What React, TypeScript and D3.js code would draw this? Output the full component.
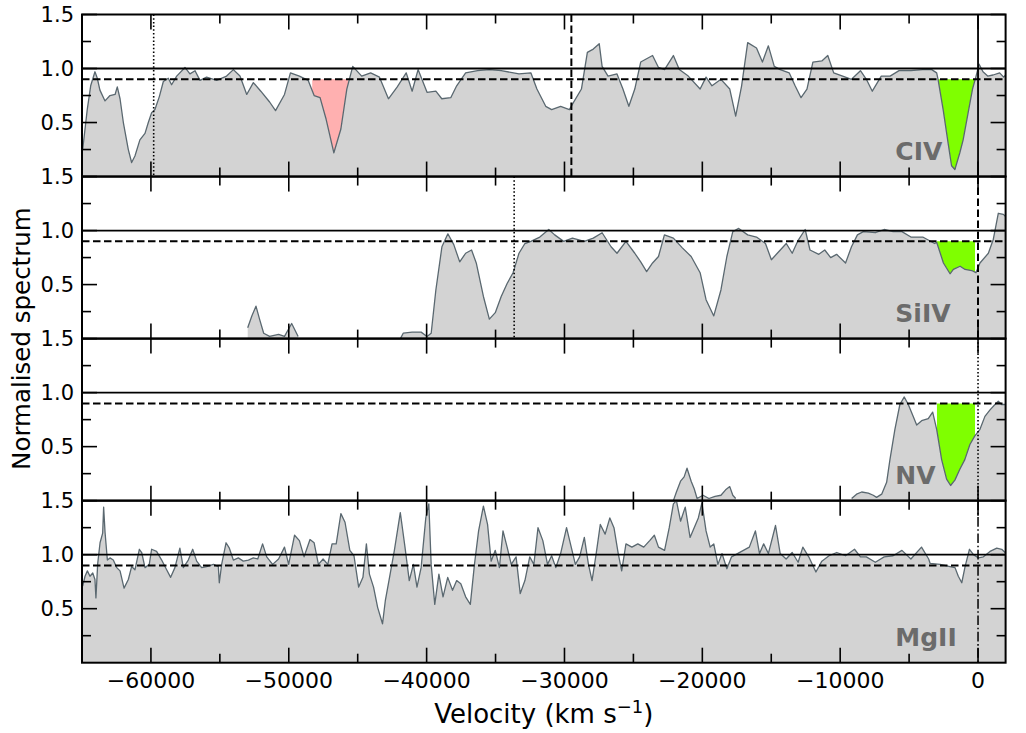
import React from 'react';
import * as d3 from 'd3';

// ---------------- DATA ----------------
const civVel = [-64950,-64620,-64370,-64060,-63890,-63700,-63330,-62970,-62600,-62440,-62240,-62000,-61640,-61400,-61160,-60800,-60430,-60190,-59950,-59710,-59390,-59100,-58740,-58500,-58130,-57530,-57170,-56800,-56440,-55960,-55230,-54510,-54020,-53540,-53050,-52570,-52030,-51390,-50960,-50310,-49880,-49230,-48590,-48160,-47730,-47290,-46730,-46220,-45790,-45360,-44710,-44060,-43420,-42770,-42130,-41480,-41050,-40620,-39970,-39330,-38900,-38250,-37820,-37170,-36310,-35450,-34590,-33300,-32440,-32000,-31360,-30930,-30280,-29640,-29420,-28770,-28340,-27910,-27480,-27270,-26840,-26190,-25760,-25330,-24900,-24470,-24040,-23610,-23180,-22740,-22100,-21670,-21020,-20160,-19730,-19300,-18650,-18010,-17580,-17150,-16710,-16070,-15640,-15210,-14780,-14350,-13700,-13270,-12840,-12410,-11980,-11330,-10900,-10470,-9820,-9180,-8530,-8100,-7670,-7020,-6380,-5730,-4870,-4010,-3360,-3000,-2900,-2530,-2170,-1920,-1680,-1320,-1080,-720,-400,-160,80,360,700,1090,1570,1860,2000];
const civFlux = [0.25,0.62,0.84,0.97,0.91,0.80,0.70,0.75,0.76,0.83,0.72,0.50,0.25,0.13,0.19,0.34,0.40,0.50,0.59,0.62,0.74,0.88,0.91,0.85,0.93,1.01,0.95,0.98,0.89,0.92,0.89,0.93,0.99,0.93,0.76,0.87,0.79,0.69,0.61,0.76,0.96,0.93,0.89,0.75,0.73,0.53,0.22,0.44,0.81,1.02,0.93,0.96,0.92,0.72,0.83,0.96,0.79,0.99,0.78,0.79,0.72,0.73,0.84,0.96,0.98,0.99,0.98,0.95,0.96,0.81,0.65,0.62,0.65,0.62,0.67,0.81,1.15,1.18,1.23,1.02,0.93,0.95,0.81,0.65,0.81,1.06,1.09,1.12,1.01,0.99,1.12,0.99,0.93,0.81,0.92,0.84,0.90,0.81,0.56,0.84,1.24,1.19,1.06,1.21,1.02,0.99,0.96,0.84,0.73,0.81,1.06,1.07,1.12,0.96,0.93,0.90,0.98,0.90,0.79,0.93,0.93,0.98,0.98,0.99,0.99,0.96,0.90,0.62,0.31,0.10,0.065,0.22,0.34,0.59,0.81,0.92,1.04,0.97,0.93,0.94,0.96,0.92,0.94];

const siivVel = [-52980,-52680,-52380,-52120,-51820,-51390,-50740,-50310,-49790,-49320,-46000,-41900,-41700,-41050,-40400,-39970,-39670,-39330,-38890,-38460,-38030,-37600,-37170,-36740,-36400,-35880,-35450,-35020,-34590,-34160,-33730,-33300,-32870,-32440,-31790,-31140,-30710,-30060,-29420,-28560,-27910,-27270,-26620,-26190,-25540,-24900,-24470,-24040,-23610,-23180,-22750,-22100,-21450,-20810,-20160,-19730,-19170,-18650,-18220,-17790,-17360,-16710,-16070,-15420,-14990,-14560,-13910,-13480,-13050,-12540,-12190,-11550,-11120,-10690,-10260,-9610,-9180,-8750,-8320,-7450,-6810,-6160,-5520,-4870,-4010,-3150,-2995,-2510,-2030,-1790,-1300,-940,-460,-150,140,750,1110,1470,1840,2000];
const siivFlux = [0.10,0.21,0.30,0.18,0.05,0.02,0.04,0.02,0.14,0.02,null,0.00,0.05,0.06,0.06,0.02,0.05,0.45,0.85,0.97,0.87,0.71,0.79,0.82,0.70,0.39,0.18,0.24,0.39,0.51,0.61,0.79,0.88,0.90,0.94,1.01,0.96,0.90,0.93,0.90,0.93,0.98,0.85,0.79,0.90,0.79,0.71,0.62,0.70,0.76,0.96,0.93,0.84,0.76,0.61,0.36,0.21,0.45,0.76,0.99,1.02,0.96,0.94,0.88,0.73,0.79,0.88,0.79,0.91,1.01,0.82,0.78,0.82,0.75,0.78,0.70,0.85,0.96,0.99,0.98,1.01,0.99,0.99,0.94,0.94,0.88,0.89,0.70,0.60,0.64,0.67,0.64,0.63,0.61,0.70,0.79,0.92,1.16,1.15,1.13];

const nvVel = [-22100,-21880,-21580,-21320,-21110,-20810,-20590,-20380,-19950,-19520,-19080,-18650,-18310,-18010,-17790,-17580,-15000,-9170,-8810,-8440,-7960,-7600,-7360,-6990,-6630,-6390,-6030,-5670,-5350,-5060,-4700,-4450,-4090,-3610,-3290,-3000,-2640,-2280,-1990,-1680,-1320,-960,-590,-230,140,500,870,1230,1470,1710,1960];
const nvFlux = [0.00,0.08,0.18,0.22,0.30,0.18,0.11,0.02,0.05,0.02,0.04,0.05,0.10,0.13,0.05,0.02,null,0.02,0.06,0.08,0.07,0.05,0.03,0.06,0.17,0.38,0.66,0.89,0.96,0.89,0.78,0.70,0.74,0.76,0.82,0.66,0.38,0.20,0.14,0.19,0.29,0.38,0.52,0.60,0.66,0.78,0.84,0.89,0.92,0.89,0.89];

const mgiiVel = [-64950,-64780,-64610,-64420,-64220,-64060,-63990,-63860,-63690,-63500,-63430,-63330,-63160,-62970,-62730,-62480,-62240,-61950,-61640,-61400,-61160,-60840,-60670,-60430,-60120,-59950,-59590,-59220,-58860,-58570,-58260,-57900,-57650,-57290,-56970,-56680,-56320,-55960,-55470,-55110,-55040,-54870,-54550,-54310,-54020,-53660,-53300,-52930,-52570,-52250,-51900,-51600,-51170,-50740,-50310,-50010,-49580,-49230,-48890,-48460,-48160,-47850,-47510,-47170,-46860,-46560,-46220,-45920,-45570,-45270,-44930,-44620,-44370,-44150,-43850,-43550,-43200,-42990,-42690,-42340,-41910,-41570,-41260,-40960,-40700,-40400,-40060,-39840,-39670,-39410,-39110,-38810,-38470,-38120,-37820,-37520,-37170,-36830,-36530,-36230,-35880,-35580,-35320,-35020,-34720,-34460,-34160,-33860,-33510,-33210,-32870,-32520,-32220,-31920,-31570,-31230,-30930,-30630,-30280,-29850,-29510,-29210,-28900,-28560,-28260,-28000,-27700,-27400,-27050,-26710,-26410,-26100,-25850,-25540,-25110,-24680,-24250,-23820,-23480,-23180,-22740,-22400,-22100,-21880,-21580,-21240,-20890,-20590,-20290,-20030,-19730,-19430,-19170,-18870,-18570,-18220,-17880,-17450,-17020,-16590,-16150,-15850,-15550,-15210,-14690,-14350,-13920,-13480,-13050,-12710,-12280,-11760,-11330,-10810,-10250,-9610,-8960,-8530,-8100,-7450,-6810,-6160,-5520,-4870,-4100,-3580,-3480,-2750,-2030,-1670,-1430,-1180,-940,-620,-330,30,390,870,1360,1720,1960];
const mgiiFlux = [0.71,0.80,0.85,0.80,0.83,0.77,0.60,0.92,1.11,1.20,1.44,1.21,0.95,0.97,0.95,0.88,0.85,0.69,0.77,0.89,0.86,1.05,1.02,0.88,0.91,1.05,1.03,0.95,0.86,0.79,0.88,1.06,0.88,0.95,1.05,0.94,0.88,0.89,0.91,0.89,0.74,0.91,1.11,1.06,0.95,0.97,0.94,0.95,0.97,0.96,1.10,0.98,0.91,0.96,1.07,0.91,1.18,1.13,0.98,1.14,1.11,0.91,0.96,0.91,1.10,1.10,1.38,1.30,1.04,0.99,0.70,0.79,1.10,0.82,0.70,0.51,0.36,0.58,0.79,1.04,1.39,1.07,0.76,0.91,0.70,0.88,1.34,1.47,0.91,0.54,0.82,0.61,0.79,0.67,0.76,0.73,0.61,0.54,0.91,1.22,1.45,1.28,0.94,1.04,0.88,1.22,1.07,0.91,0.98,0.64,0.76,0.98,0.91,1.25,1.13,0.91,0.99,0.88,1.01,1.25,1.07,0.91,0.98,1.16,0.91,0.76,1.01,1.28,1.19,1.34,1.25,1.01,0.85,1.10,1.07,1.10,1.07,1.13,1.18,1.07,1.04,1.25,1.47,1.50,1.31,1.44,1.16,1.25,1.34,1.48,1.22,1.07,1.10,0.91,1.01,0.87,0.98,1.01,1.04,1.07,1.22,1.01,1.10,1.01,1.27,1.01,0.96,1.02,0.93,1.07,0.98,0.84,0.94,0.99,1.02,0.99,1.05,0.98,0.98,0.93,0.98,0.99,1.04,0.96,1.07,0.96,0.92,0.91,0.89,0.88,0.80,0.74,0.89,1.05,1.00,0.97,0.98,1.03,1.06,1.05,1.02];

const ionNames = ['CIV', 'SiIV', 'NV', 'MgII'];
const xTickValues = [-60000, -50000, -40000, -30000, -20000, -10000, 0];
const xMinorTickValues = [-55000, -45000, -35000, -25000, -15000, -5000];
const yTickValues = [0.5, 1.0, 1.5];
const yMinorTickValues = [0.25, 0.75, 1.25];
const continuumLevel = 1.0;
const thresholdLevel = 0.9;
const greenRange = [-2980, -220];
const pinkRange = [-48300, -45700];
const civVlines = [-59800, -29500, 0];
const siivVlines = [-33650, 0];
const nvVlines = [0];
const mgiiVlines = [0];

// ---------------- LAYOUT ----------------
const W = 1026, H = 733;
const LEFT = 82, RIGHT = 1005.6, TOP = 14.5, PH = 162.05;
const FONT = "'DejaVu Sans', 'Liberation Sans', sans-serif";
const GREEN = '#7fff00';
const PINK = '#ffb0b0';
const GRAY = '#d3d3d3';
const LINE = '#5a6870';

const STYLES: Record<string, { dash: string; w: number }> = {
  dotted: { dash: '1.5,2.2', w: 1.6 },
  dashed: { dash: '7.5,3.5', w: 2 },
  solid: { dash: '', w: 1.8 },
  dashdot: { dash: '9.6,2.6,1.6,2.6', w: 1.5 },
};

type Pt = { v: number; f: number | null };

function interp(vel: number[], flux: (number | null)[], v: number): number {
  for (let i = 0; i < vel.length - 1; i++) {
    const a = flux[i], b = flux[i + 1];
    if (a == null || b == null) continue;
    if (vel[i] <= v && v <= vel[i + 1]) {
      const t = (v - vel[i]) / (vel[i + 1] - vel[i]);
      return a + t * (b - a);
    }
  }
  return thresholdLevel;
}

function regionPts(vel: number[], flux: (number | null)[], r: number[]): { v: number; f: number }[] {
  const pts: { v: number; f: number }[] = [{ v: r[0], f: interp(vel, flux, r[0]) }];
  vel.forEach((v, i) => {
    const f = flux[i];
    if (v > r[0] && v < r[1] && f != null) pts.push({ v, f });
  });
  pts.push({ v: r[1], f: interp(vel, flux, r[1]) });
  return pts.map((p) => ({ v: p.v, f: Math.min(p.f, thresholdLevel) }));
}

const panels = [
  { name: ionNames[0], vel: civVel, flux: civFlux, fills: [{ r: pinkRange, c: PINK }, { r: greenRange, c: GREEN }], vlines: [{ v: civVlines[0], s: 'dotted' }, { v: civVlines[1], s: 'dashed' }, { v: civVlines[2], s: 'solid' }] },
  { name: ionNames[1], vel: siivVel, flux: siivFlux, fills: [{ r: greenRange, c: GREEN }], vlines: [{ v: siivVlines[0], s: 'dotted' }, { v: siivVlines[1], s: 'dashed' }] },
  { name: ionNames[2], vel: nvVel, flux: nvFlux, fills: [{ r: greenRange, c: GREEN }], vlines: [{ v: nvVlines[0], s: 'dotted' }] },
  { name: ionNames[3], vel: mgiiVel, flux: mgiiFlux, fills: [], vlines: [{ v: mgiiVlines[0], s: 'dashdot' }] },
];

const x = d3.scaleLinear().domain([-65000, 2000]).range([LEFT, RIGHT]);
const fmt = (v: number) => (v < 0 ? '\u2212' + Math.abs(v) : String(v));

function Panel({ p, i }: { p: any; i: number }) {
  const top = TOP + i * PH;
  const bottom = top + PH;
  const y = d3.scaleLinear().domain([0, 1.5]).range([bottom, top]);
  const pts: Pt[] = p.vel.map((v: number, k: number) => ({ v, f: p.flux[k] }));
  const area = d3.area<Pt>().defined((d) => d.f != null).x((d) => x(d.v)).y0(bottom).y1((d) => y(d.f as number));
  const line = d3.line<Pt>().defined((d) => d.f != null).x((d) => x(d.v)).y((d) => y(d.f as number));
  const fillArea = d3.area<{ v: number; f: number }>().x((d) => x(d.v)).y0(y(thresholdLevel)).y1((d) => y(d.f));
  const clipId = `clip${i}`;
  const tickW = 1.6;
  return (
    <g>
      <defs>
        <clipPath id={clipId}>
          <rect x={LEFT} y={top} width={RIGHT - LEFT} height={PH} />
        </clipPath>
      </defs>
      <g clipPath={`url(#${clipId})`}>
        <path d={area(pts) || ''} fill={GRAY} stroke="none" />
        {p.fills.map((fl: any, k: number) => (
          <path key={k} d={fillArea(regionPts(p.vel, p.flux, fl.r)) || ''} fill={fl.c} stroke="none" />
        ))}
        <path d={line(pts) || ''} fill="none" stroke={LINE} strokeWidth={1.3} strokeLinejoin="round" />
        <line x1={LEFT} x2={RIGHT} y1={y(continuumLevel)} y2={y(continuumLevel)} stroke="#000" strokeWidth={1.8} />
        <line x1={LEFT} x2={RIGHT} y1={y(thresholdLevel)} y2={y(thresholdLevel)} stroke="#000" strokeWidth={2} strokeDasharray="7.5,3.5" />
        {p.vlines.map((vl: any, k: number) => (
          <line key={k} x1={x(vl.v)} x2={x(vl.v)} y1={top} y2={bottom} stroke="#000" strokeWidth={STYLES[vl.s].w} strokeDasharray={STYLES[vl.s].dash} />
        ))}
      </g>
      <text x={x(-6000)} y={bottom - 17} fontFamily={FONT} fontWeight="bold" fontSize={25} fill="#6b6b6b">{p.name}</text>
      {xTickValues.map((t) => (
        <g key={'M' + t}>
          <line x1={x(t)} x2={x(t)} y1={top} y2={top + 15} stroke="#000" strokeWidth={tickW} />
          <line x1={x(t)} x2={x(t)} y1={bottom} y2={bottom - 15} stroke="#000" strokeWidth={tickW} />
        </g>
      ))}
      {xMinorTickValues.map((t) => (
        <g key={'m' + t}>
          <line x1={x(t)} x2={x(t)} y1={top} y2={top + 9} stroke="#000" strokeWidth={tickW} />
          <line x1={x(t)} x2={x(t)} y1={bottom} y2={bottom - 9} stroke="#000" strokeWidth={tickW} />
        </g>
      ))}
      {yTickValues.map((t) => (
        <g key={'Y' + t}>
          <line x1={LEFT} x2={LEFT + 15} y1={y(t)} y2={y(t)} stroke="#000" strokeWidth={tickW} />
          <line x1={RIGHT} x2={RIGHT - 15} y1={y(t)} y2={y(t)} stroke="#000" strokeWidth={tickW} />
          <text x={74} y={y(t)} dy="0.36em" textAnchor="end" fontFamily={FONT} fontSize={21} fill="#000">{t.toFixed(1)}</text>
        </g>
      ))}
      {yMinorTickValues.map((t) => (
        <g key={'y' + t}>
          <line x1={LEFT} x2={LEFT + 9} y1={y(t)} y2={y(t)} stroke="#000" strokeWidth={tickW} />
          <line x1={RIGHT} x2={RIGHT - 9} y1={y(t)} y2={y(t)} stroke="#000" strokeWidth={tickW} />
        </g>
      ))}
      <rect x={LEFT} y={top} width={RIGHT - LEFT} height={PH} fill="none" stroke="#000" strokeWidth={2} />
    </g>
  );
}

export default function App() {
  const bottom = TOP + 4 * PH;
  return (
    <svg width={W} height={H} style={{ position: 'absolute', left: 0, top: 0, background: '#fff' }}>
      <rect x={0} y={0} width={W} height={H} fill="#fff" />
      {panels.map((p, i) => (
        <Panel key={p.name} p={p} i={i} />
      ))}
      {xTickValues.map((t) => (
        <text key={t} x={x(t)} y={bottom + 25} textAnchor="middle" fontFamily={FONT} fontSize={22} fill="#000">{fmt(t)}</text>
      ))}
      <text x={(LEFT + RIGHT) / 2} y={723} textAnchor="middle" fontFamily={FONT} fontSize={26} fill="#000">
        Velocity (km s<tspan dy="-10" fontSize={18}>{'\u22121'}</tspan><tspan dy="10">)</tspan>
      </text>
      <text transform={`translate(30, ${(TOP + bottom) / 2}) rotate(-90)`} textAnchor="middle" fontFamily={FONT} fontSize={24.5} fill="#000">
        Normalised spectrum
      </text>
    </svg>
  );
}
